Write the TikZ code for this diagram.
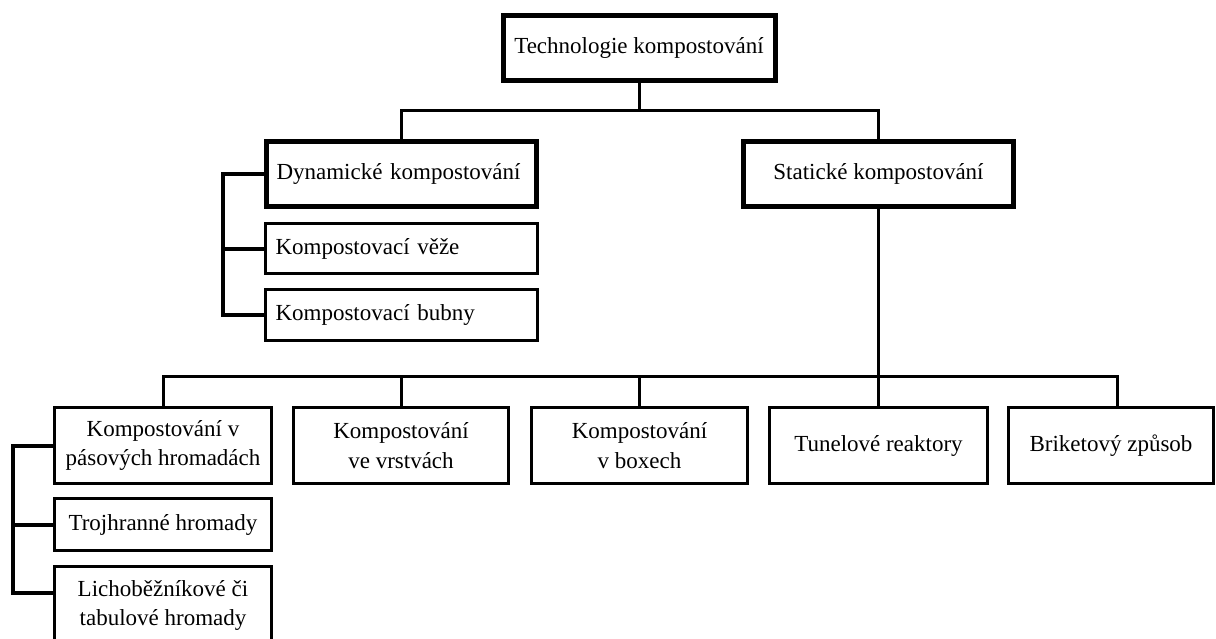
\documentclass[tikz,border=0pt]{standalone}
\usepackage{fontspec}
\setmainfont{Liberation Serif}
\begin{document}
\begin{tikzpicture}[x=1pt,y=-1pt,
  every node/.style={font=\fontsize{23}{29.5}\selectfont, text=black},
  box/.style={draw=black, line width=3pt, align=center, inner sep=2pt, minimum width=217pt, minimum height=76pt},
  hbox/.style={draw=black, line width=5pt, align=center, inner sep=2pt, minimum height=65pt},
  lbox/.style={draw=black, line width=3pt, inner xsep=10pt, inner ysep=2pt, text width=252pt, align=left},
  link/.style={draw=black, line width=3pt},
  brace/.style={draw=black, line width=4pt}]
\path[use as bounding box] (0,0) rectangle (1216,638);
\clip (0,0) rectangle (1216,638);
\fill[white] (0,0) rectangle (1216,638);

% nodes
\node[hbox, minimum width=272pt] (top) at (639,48) {Technologie kompostování};
\node[hbox, inner xsep=10pt, text width=250pt, align=left] (dyn) at (401.5,174) {Dynamické kompostování};
\node[lbox, minimum height=50pt] (vez) at (401.5,248.5) {Kompostovací věže};
\node[lbox, minimum height=51pt] (bub) at (401.5,315) {Kompostovací bubny};
\node[hbox, minimum width=270pt] (stat) at (878.5,174) {Statické kompostování};

\node[box] (b1) at (163,445.5) {Kompostování v\\pásových hromadách};
\node[box, minimum width=215pt] (b2) at (401,445.5) {Kompostování\\ve vrstvách};
\node[box, minimum width=216pt] (b3) at (639.5,445.5) {Kompostování\\v boxech};
\node[box, minimum width=218pt] (b4) at (878.5,445.5) {Tunelové reaktory};
\node[box, minimum width=205pt] (b5) at (1111,445.5) {Briketový způsob};
\node[box, minimum height=52pt] (troj) at (163,524.5) {Trojhranné hromady};
\node[box, minimum height=78pt] (lich) at (163,605.5) {Lichoběžníkové či\\tabulové hromady};

% junctions
\coordinate (j1) at (639,110);
\coordinate (j2) at (878.5,376);
\coordinate (d) at (223,0);
\coordinate (e) at (13,0);
\coordinate (lw) at ([yshift=13pt]lich.west);
\coordinate (b5n) at ([xshift=6pt]b5.north);

% connectors
\draw[link] (top.south) -- (j1);
\draw[link] (dyn.north) |- (j1) -| (stat.north);
\draw[link] (stat.south) -- (j2);
\draw[link] (b1.north) |- (j2) -| (b5n);
\draw[link] (b2.north) -- (b2.north |- j2);
\draw[link] (b3.north) -- (b3.north |- j2);
\draw[link] (b4.north) -- (j2);

\draw[brace] (dyn.west) -| (d |- bub.west) -- (bub.west);
\draw[brace] (vez.west) -- (vez.west -| d);
\draw[brace] (b1.west) -| (e |- lw) -- (lw);
\draw[brace] (troj.west) -- (troj.west -| e);
\end{tikzpicture}
\end{document}
